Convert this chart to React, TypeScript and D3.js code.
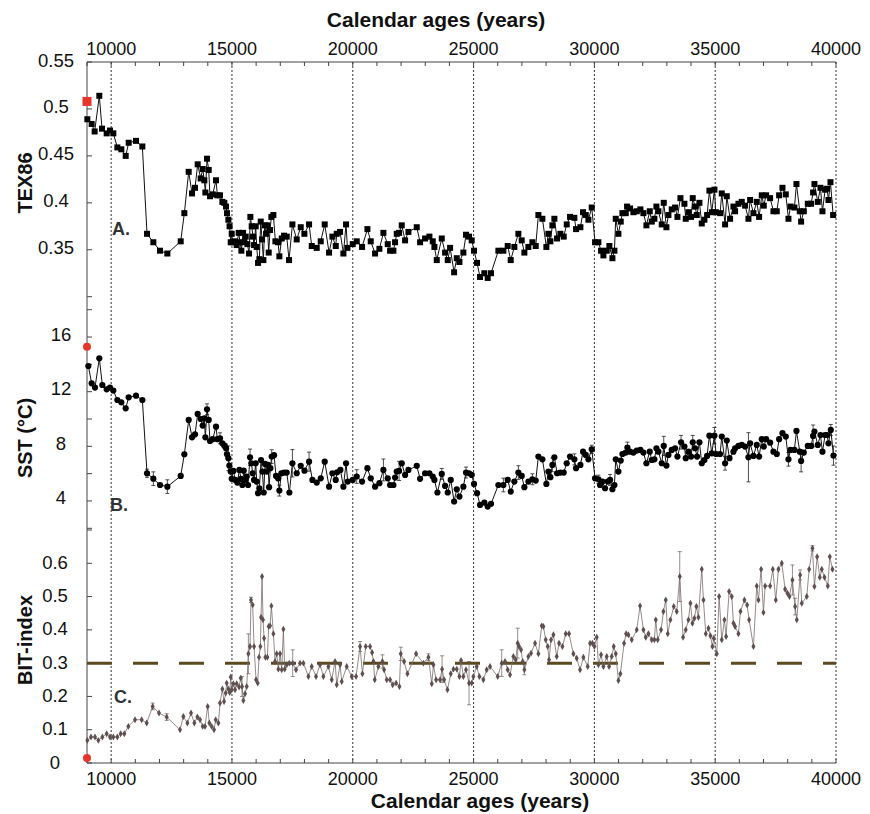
import React from "react";
import * as d3 from "d3";

// ---------- DATA ----------
const ageTicksMajor = [10000, 15000, 20000, 25000, 30000, 35000, 40000];

const tex86Ticks = [0.3, 0.35, 0.4, 0.45, 0.5, 0.55];
const tex86Labels = ["", "0.35", "0.4", "0.45", "0.5", "0.55"];
const sstTicks = [2, 4, 6, 8, 10, 12, 14, 16, 18];
const sstLabels = ["", "4", "", "8", "", "12", "", "16", ""];
const bitTicks = [0, 0.1, 0.2, 0.3, 0.4, 0.5, 0.6, 0.7];
const bitLabels = ["0", "0.1", "0.2", "0.3", "0.4", "0.5", "0.6", ""];

const tex86Modern: [number, number] = [9000, 0.508];
const sstModern: [number, number] = [9000, 15.29];
const bitModern: [number, number] = [9000, 0.015];

const tex86: [number, number][] = [
  [9014,0.489],[9193,0.484],[9317,0.476],[9510,0.514],[9621,0.479],[9814,0.474],[9952,0.477],[10090,0.474],[10256,0.459],[10421,0.457],[10601,0.450],[10725,0.464],[11028,0.466],[11291,0.460],[11484,0.367],[11746,0.358],[12022,0.349],[12326,0.346],[12878,0.359],[13029,0.389],[13209,0.433],[13347,0.410],[13471,0.416],[13581,0.441],[13706,0.426],[13788,0.436],[13857,0.424],[13899,0.411],[13968,0.447],[14037,0.435],[14092,0.407],[14202,0.409],[14340,0.424],[14396,0.408],[14506,0.408],[14603,0.401],[14685,0.400],[14754,0.396],[14796,0.389],[14851,0.382],[14900,0.375],[14948,0.358],[14990,0.367],[15030,0.358],[15127,0.359],[15196,0.355],[15279,0.368],[15334,0.358],[15389,0.349],[15458,0.368],[15513,0.358],[15569,0.364],[15638,0.356],[15707,0.346],[15762,0.385],[15817,0.375],[15872,0.364],[15914,0.355],[15983,0.375],[16024,0.353],[16079,0.336],[16134,0.340],[16190,0.380],[16245,0.361],[16300,0.339],[16355,0.376],[16410,0.367],[16466,0.376],[16521,0.347],[16576,0.371],[16631,0.385],[16714,0.387],[16797,0.359],[16907,0.358],[16962,0.343],[17059,0.362],[17156,0.365],[17266,0.364],[17363,0.339],[17501,0.377],[17680,0.361],[17846,0.374],[17997,0.367],[18191,0.377],[18301,0.354],[18508,0.352],[18674,0.359],[18839,0.377],[19019,0.347],[19157,0.364],[19295,0.354],[19336,0.367],[19474,0.369],[19612,0.346],[19722,0.377],[19778,0.352],[19998,0.356],[20164,0.359],[20385,0.353],[20606,0.372],[20744,0.359],[20923,0.346],[21102,0.351],[21268,0.368],[21447,0.356],[21544,0.349],[21682,0.349],[21751,0.358],[21820,0.367],[21917,0.368],[22027,0.376],[22165,0.360],[22303,0.369],[22648,0.374],[22786,0.358],[22993,0.362],[23172,0.364],[23310,0.359],[23379,0.353],[23476,0.339],[23683,0.362],[23821,0.347],[23931,0.339],[24028,0.352],[24194,0.326],[24304,0.341],[24414,0.337],
  [24577,0.347],[24687,0.366],[24812,0.364],[24922,0.360],[25019,0.349],[25143,0.336],[25267,0.321],[25446,0.325],[25584,0.320],[25722,0.325],[26026,0.349],[26233,0.349],[26412,0.354],[26537,0.339],[26688,0.353],[26854,0.367],[26992,0.360],[27102,0.347],[27268,0.353],[27434,0.358],[27572,0.354],[27682,0.387],[27848,0.383],[28013,0.353],[28096,0.367],[28179,0.359],[28262,0.376],[28344,0.383],[28455,0.362],[28593,0.367],[28731,0.364],[28855,0.377],[28993,0.385],[29172,0.384],[29241,0.372],[29421,0.374],[29531,0.390],[29642,0.387],[29752,0.382],[29890,0.395],[30028,0.358],[30166,0.358],[30276,0.349],[30373,0.344],[30511,0.349],[30621,0.354],[30746,0.341],[30829,0.349],[30884,0.383],[30994,0.367],[31091,0.380],[31160,0.389],[31298,0.389],[31353,0.396],[31477,0.394],[31615,0.390],[31753,0.391],[31905,0.393],[32029,0.389],[32153,0.376],[32291,0.391],[32374,0.380],[32484,0.383],[32567,0.396],[32650,0.391],[32788,0.377],[32871,0.400],[32981,0.374],[33064,0.387],[33202,0.393],[33340,0.395],[33437,0.385],[33561,0.405],[33726,0.399],[33782,0.383],[33892,0.390],[34002,0.385],[34071,0.405],[34168,0.396],[34237,0.387],[34347,0.400],[34444,0.378],[34554,0.382],[34665,0.387],[34761,0.413],[34858,0.390],[34968,0.414],[35024,0.390],[35203,0.389],[35272,0.410],[35410,0.377],[35479,0.407],[35617,0.383],[35755,0.396],[35824,0.391],[35962,0.399],[36100,0.401],[36238,0.397],[36376,0.383],[36445,0.403],[36583,0.389],[36721,0.401],[36818,0.385],[36928,0.408],[37011,0.397],[37107,0.408],[37273,0.405],[37411,0.391],[37549,0.391],[37646,0.408],[37784,0.416],[37922,0.409],[38032,0.383],[38115,0.396],[38280,0.395],[38363,0.420],[38501,0.391],[38556,0.380],[38667,0.391],[38833,0.399],[38970,0.399],[39053,0.411],[39108,0.420],[39246,0.401],[39357,0.416],[39439,0.391],[39550,0.414],[39633,0.415],[39688,0.403],[39771,0.422],[39881,0.387]
];

const sst: [number, number][] = [
  [9055,13.88],[9193,12.61],[9331,12.30],[9510,14.44],[9635,12.49],[9814,12.17],[9952,12.30],[10090,12.08],[10256,11.39],[10421,11.22],[10601,10.78],[10725,11.59],[11028,11.71],[11291,11.39],[11484,6.03],[11746,5.63],[12022,5.17],[12326,5.05],[12878,5.83],[13029,7.42],[13209,9.93],[13347,8.66],[13471,8.88],[13581,10.37],[13706,10.00],[13788,9.52],[13857,10.05],[13899,8.66],[13968,10.71],[14037,9.93],[14092,8.39],[14202,8.52],[14340,9.44],[14396,8.52],[14506,8.59],[14603,8.22],[14685,8.05],[14754,7.86],[14796,7.42],[14851,7.13],[14892,6.59],[14948,6.15],[14989,5.62],[15058,6.20],[15141,5.54],[15224,5.35],[15306,6.27],[15375,5.62],[15430,5.17],[15486,6.22],[15541,5.54],[15610,5.79],[15665,5.17],[15748,7.20],[15803,6.76],[15858,6.03],[15914,5.54],[15983,6.76],[16024,5.42],[16079,4.57],[16134,4.93],[16203,7.00],[16259,6.15],[16314,4.62],[16369,6.71],[16438,6.15],[16493,6.64],[16535,5.01],[16590,6.40],[16645,7.25],[16742,7.35],[16825,5.83],[16907,5.66],[16962,4.76],[17045,6.03],[17156,6.08],[17266,6.08],[17376,4.62],[17501,6.76],[17680,6.03],[17846,6.57],[18001,6.22],[18191,6.88],[18329,5.54],[18508,5.35],[18674,5.66],[18839,6.88],[19019,5.05],[19157,6.03],[19295,5.54],[19350,6.10],[19488,6.27],[19612,5.05],[19722,6.76],[19791,5.42],[19998,5.54],[20164,5.79],[20385,5.42],[20606,6.40],[20744,5.66],[20923,5.05],[21102,5.30],[21268,6.27],[21447,5.66],[21544,5.17],[21682,5.17],[21751,5.71],[21820,6.15],[21917,6.20],[22027,6.76],[22165,5.91],[22303,6.27],[22648,6.57],[22786,5.62],[22993,6.03],[23172,6.03],[23310,5.79],[23379,5.54],[23503,4.62],[23683,5.98],[23821,5.10],[23931,4.62],[24055,5.54],[24194,3.96],[24304,4.86],[24414,4.32],
  [24577,5.05],[24687,6.08],[24812,6.03],[24922,5.91],[25019,5.25],[25143,4.57],[25267,3.71],[25446,3.88],[25584,3.59],[25722,3.79],[26026,5.17],[26233,5.17],[26412,5.54],[26537,4.69],[26688,5.42],[26854,6.08],[26992,5.83],[27102,5.01],[27268,5.42],[27434,5.59],[27572,5.49],[27682,7.25],[27848,7.05],[28013,5.25],[28096,6.15],[28179,5.74],[28262,6.64],[28344,7.20],[28455,6.03],[28593,6.08],[28731,6.08],[28855,6.76],[28993,7.25],[29172,7.05],[29241,6.40],[29421,6.64],[29531,7.61],[29642,7.37],[29752,7.05],[29890,7.78],[30028,5.66],[30166,5.59],[30235,5.17],[30332,5.42],[30442,4.93],[30553,5.42],[30649,5.54],[30746,4.86],[30829,5.17],[30884,7.05],[30994,6.15],[31091,6.96],[31160,7.44],[31298,7.54],[31367,7.91],[31477,7.61],[31615,7.54],[31753,7.69],[31905,7.74],[32029,7.54],[32153,6.76],[32291,7.61],[32374,7.00],[32484,7.05],[32567,7.86],[32650,7.61],[32788,6.76],[32871,8.03],[32981,6.59],[33064,7.37],[33202,7.74],[33340,7.86],[33437,7.25],[33588,8.30],[33726,7.98],[33782,7.13],[33892,7.61],[34002,7.25],[34071,8.30],[34168,7.86],[34250,7.25],[34347,8.30],[34444,6.76],[34554,7.00],[34665,7.30],[34761,8.78],[34858,7.49],[34968,8.78],[35037,7.44],[35203,7.44],[35272,8.71],[35410,6.76],[35479,8.42],[35590,7.13],[35755,7.61],[35824,7.86],[35962,8.03],[36100,8.10],[36238,7.98],[36376,7.20],[36445,8.22],[36583,7.30],[36721,8.10],[36818,7.25],[36928,8.52],[37011,7.98],[37107,8.52],[37273,8.27],[37411,7.61],[37549,7.44],[37646,8.52],[37784,8.96],[37922,8.71],[38032,7.05],[38115,7.74],[38280,7.74],[38363,9.13],[38501,7.61],[38556,6.93],[38667,7.54],[38833,8.03],[38970,8.03],[39053,8.76],[39108,9.08],[39246,8.10],[39357,8.83],[39439,7.61],[39550,8.83],[39633,8.83],[39688,8.22],[39785,9.20],[39895,7.32]
];

const sstErr: [number, number][] = [
  [11484,0.3],[11746,0.5],[12326,0.5],[13968,0.4],[14506,0.4],[14754,0.3],[14851,0.9],[15748,0.6],[16645,0.5],[16962,0.4],[17501,1.0],[18191,0.7],[20164,0.5],[21268,0.8],[21917,0.7],[23683,0.4],
  [24687,0.4],[26233,0.5],[26854,0.5],[27434,0.4],[28262,0.5],[29172,0.4],[29890,0.3],[30166,0.3],[30649,0.4],[31367,0.4],[32871,0.7],[33588,0.5],[34071,0.5],[34968,0.6],[35410,0.5],[36376,1.8],[38032,0.5],[38556,0.8],[39053,0.8],[39785,0.4],[39895,0.7]
];

const bit: [number, number][] = [
  [9014,0.068],[9165,0.078],[9331,0.078],[9469,0.068],[9635,0.078],[9814,0.088],[9952,0.078],[10090,0.078],[10256,0.078],[10394,0.088],[10545,0.088],[10711,0.110],[10987,0.130],[11263,0.130],[11470,0.120],[11718,0.170],[11981,0.150],[12298,0.138],[12850,0.100],[12988,0.140],[13154,0.120],[13305,0.150],[13443,0.120],[13568,0.138],[13678,0.130],[13788,0.110],[13885,0.110],[13995,0.170],[14064,0.120],[14161,0.110],[14258,0.100],[14327,0.130],[14437,0.120],[14506,0.180],[14603,0.222],[14672,0.185],[14741,0.210],[14782,0.240],[14851,0.222],[14906,0.212],[14948,0.258],[14989,0.220],[15058,0.238],[15127,0.220],[15196,0.238],[15293,0.228],[15362,0.255],[15417,0.230],[15472,0.188],[15541,0.208],[15610,0.230],[15679,0.328],[15748,0.350],[15789,0.490],[15858,0.475],[15914,0.350],[15997,0.250],[16065,0.240],[16120,0.318],[16176,0.350],[16203,0.438],[16245,0.560],[16286,0.430],[16328,0.375],[16383,0.318],[16466,0.318],[16521,0.410],[16576,0.412],[16631,0.472],[16714,0.388],[16783,0.305],[16852,0.328],[16921,0.282],[16990,0.328],[17059,0.280],[17128,0.402],[17183,0.282],[17266,0.295],[17376,0.300],[17514,0.300],[17652,0.280],[17818,0.300],[17956,0.300],[18163,0.260],[18301,0.290],[18480,0.260],[18646,0.295],[18784,0.260],[18991,0.290],[19129,0.250],[19267,0.305],[19336,0.235],[19474,0.295],[19543,0.245],[19750,0.290],[19957,0.260],[20136,0.260],[20302,0.350],[20399,0.268],[20537,0.350],[20716,0.350],[20799,0.332],[20854,0.305],[20909,0.250],[21061,0.290],[21227,0.305],[21296,0.280],[21406,0.250],[21544,0.250],[21654,0.235],[21792,0.240],[21930,0.230],[21986,0.328],[22124,0.305],[22262,0.268],[22620,0.328],[22924,0.300],[23131,0.318],[23269,0.238],[23338,0.295],[23448,0.250],[23614,0.250],[23697,0.282],[23780,0.250],[23918,0.220],[24056,0.268],[24166,0.282],[24304,0.282],[24414,0.260],
  [24480,0.308],[24577,0.260],[24687,0.280],[24812,0.240],[24922,0.240],[24991,0.260],[25129,0.290],[25239,0.260],[25405,0.250],[25543,0.280],[25681,0.290],[26000,0.260],[26164,0.300],[26302,0.305],[26412,0.280],[26509,0.265],[26647,0.320],[26743,0.310],[26826,0.360],[26882,0.350],[26964,0.340],[27033,0.305],[27102,0.280],[27268,0.320],[27378,0.330],[27544,0.360],[27682,0.328],[27820,0.412],[27889,0.410],[27986,0.370],[28068,0.350],[28124,0.310],[28206,0.370],[28303,0.385],[28441,0.320],[28538,0.360],[28676,0.350],[28814,0.388],[28952,0.388],[29131,0.328],[29269,0.315],[29407,0.280],[29545,0.318],[29724,0.290],[29821,0.360],[29918,0.360],[30000,0.350],[30097,0.378],[30166,0.295],[30277,0.325],[30373,0.290],[30511,0.320],[30608,0.290],[30718,0.320],[30801,0.350],[30884,0.328],[30994,0.248],[31077,0.268],[31229,0.360],[31312,0.388],[31408,0.385],[31546,0.370],[31753,0.400],[31891,0.472],[32029,0.400],[32126,0.378],[32236,0.388],[32374,0.370],[32484,0.370],[32540,0.430],[32622,0.370],[32760,0.400],[32857,0.455],[32954,0.490],[33036,0.388],[33146,0.430],[33285,0.470],[33409,0.455],[33533,0.560],[33671,0.378],[33781,0.400],[33892,0.430],[33975,0.480],[34058,0.420],[34140,0.435],[34223,0.470],[34306,0.438],[34444,0.582],[34513,0.490],[34610,0.388],[34720,0.405],[34803,0.382],[34886,0.350],[34941,0.375],[35065,0.328],[35162,0.500],[35272,0.370],[35382,0.430],[35451,0.380],[35576,0.515],[35686,0.500],[35755,0.420],[35824,0.410],[35962,0.388],[36045,0.455],[36210,0.490],[36321,0.475],[36403,0.430],[36583,0.350],[36721,0.532],[36790,0.490],[36901,0.582],[36997,0.452],[37066,0.532],[37273,0.532],[37384,0.582],[37508,0.490],[37618,0.582],[37756,0.600],[37894,0.522],[37991,0.510],[38073,0.500],[38197,0.550],[38308,0.470],[38377,0.430],[38515,0.565],[38584,0.480],[38791,0.500],[38888,0.582],[39026,0.645],[39108,0.530],[39219,0.620],[39329,0.558],[39412,0.582],[39522,0.558],[39660,0.532],[39743,0.620],[39854,0.582]
];

const bitErr: [number, number][] = [
  [11718,0.01],[12298,0.01],[15417,0.03],[15679,0.06],[15789,0.008],[17514,0.04],[20302,0.015],[21227,0.02],[21986,0.02],[23131,0.01],[23697,0.04],
  [24812,0.065],[26164,0.04],[26826,0.045],[27102,0.015],[33533,0.075],[38197,0.045],[38308,0.025],[38515,0.015],[39026,0.008]
];

const bitThreshold = 0.3;

// ---------- CHART ----------
const W = 870, H = 814;
const FONT = "'Liberation Sans', Arial, Helvetica, sans-serif";

export default function App() {
  const x = d3.scaleLinear().domain([9000, 40000]).range([87, 836]);
  const yTex = d3.scaleLinear().domain([0.3, 0.55]).range([296.7, 62]);
  const ySst = d3.scaleLinear().domain([2, 18]).range([528.3, 309.7]);
  const yBit = d3.scaleLinear().domain([0, 0.7]).range([763, 530]);

  const top = 62, bottom = 763, left = 87, right = 836;
  const minorTicks = d3.range(9000, 40001, 1000);

  const texLine = d3.line<[number, number]>().x(d => x(d[0])).y(d => yTex(d[1]));
  const sstLine = d3.line<[number, number]>().x(d => x(d[0])).y(d => ySst(d[1]));
  const bitLine = d3.line<[number, number]>().x(d => x(d[0])).y(d => yBit(d[1]));
  const diamond = d3.symbol().type(d3.symbolDiamond).size(14)() as string;

  const sstMap = new Map(sst.map(d => [d[0], d[1]]));
  const bitMap = new Map(bit.map(d => [d[0], d[1]]));

  const axisColor = "#444";
  const bitColor = "#5f4f4f";

  return (
    <svg width={W} height={H} style={{ position: "absolute", left: 0, top: 0, background: "#fff" }} fontFamily={FONT}>
      <rect width={W} height={H} fill="#fff" />
      {/* vertical dotted lines */}
      {ageTicksMajor.map(a => (
        <line key={"v" + a} x1={x(a)} x2={x(a)} y1={top} y2={bottom} stroke="#333" strokeWidth={1} strokeDasharray="2,2" />
      ))}
      {/* axes */}
      <line x1={left} x2={right} y1={top} y2={top} stroke={axisColor} strokeWidth={1} />
      <line x1={left} x2={right} y1={bottom} y2={bottom} stroke={axisColor} strokeWidth={1} />
      <line x1={left} x2={left} y1={top} y2={bottom} stroke={axisColor} strokeWidth={1} />
      {minorTicks.map(a => (
        <g key={"t" + a}>
          <line x1={x(a)} x2={x(a)} y1={top} y2={top + 4} stroke={axisColor} />
          <line x1={x(a)} x2={x(a)} y1={bottom} y2={bottom - 4} stroke={axisColor} />
        </g>
      ))}
      {ageTicksMajor.map(a => (
        <g key={"l" + a} fontSize={18} fill="#111" textAnchor="middle">
          <text x={x(a)} y={49} dominantBaseline="central">{a}</text>
          <text x={x(a)} y={779} dominantBaseline="central">{a}</text>
        </g>
      ))}
      <text x={436} y={19} textAnchor="middle" dominantBaseline="central" fontSize={21} fontWeight="bold" fill="#111">Calendar ages (years)</text>
      <text x={480} y={800} textAnchor="middle" dominantBaseline="central" fontSize={21} fontWeight="bold" fill="#111">Calendar ages (years)</text>

      {/* left ticks */}
      {tex86Ticks.map((t, i) => (
        <g key={"tx" + t}>
          <line x1={left} x2={left + 5} y1={yTex(t)} y2={yTex(t)} stroke={axisColor} />
          <text x={56} y={yTex(t) - 2} textAnchor="middle" dominantBaseline="central" fontSize={18.5} fill="#111">{tex86Labels[i]}</text>
        </g>
      ))}
      {sstTicks.map((t, i) => (
        <g key={"ss" + t}>
          <line x1={left} x2={left + 5} y1={ySst(t)} y2={ySst(t)} stroke={axisColor} />
          <text x={61} y={ySst(t) - 3} textAnchor="middle" dominantBaseline="central" fontSize={18.5} fill="#111">{sstLabels[i]}</text>
        </g>
      ))}
      {bitTicks.map((t, i) => (
        <g key={"bt" + t}>
          <line x1={left} x2={left + 5} y1={yBit(t)} y2={yBit(t)} stroke={axisColor} />
          <text x={55} y={yBit(t) - 1} textAnchor="middle" dominantBaseline="central" fontSize={18.5} fill="#111">{bitLabels[i]}</text>
        </g>
      ))}
      <text transform="translate(25,183) rotate(-90)" textAnchor="middle" dominantBaseline="central" fontSize={20} fontWeight="bold" fill="#111">TEX86</text>
      <text transform="translate(25,438) rotate(-90)" textAnchor="middle" dominantBaseline="central" fontSize={20} fontWeight="bold" fill="#111">SST (°C)</text>
      <text transform="translate(25,640) rotate(-90)" textAnchor="middle" dominantBaseline="central" fontSize={20} fontWeight="bold" fill="#111">BIT-index</text>

      <text x={112} y={229} dominantBaseline="central" fontSize={18} fontWeight="bold" fill="#333">A.</text>
      <text x={110} y={505} dominantBaseline="central" fontSize={18} fontWeight="bold" fill="#333">B.</text>
      <text x={114} y={697} dominantBaseline="central" fontSize={18} fontWeight="bold" fill="#333">C.</text>

      {/* BIT threshold dashed line */}
      <line x1={left} x2={right} y1={yBit(bitThreshold)} y2={yBit(bitThreshold)} stroke="#5a4a1e" strokeWidth={3} strokeDasharray="25,21" />

      {/* TEX86 */}
      <path d={texLine(tex86) as string} fill="none" stroke="#111" strokeWidth={1} />
      {tex86.map((d, i) => (
        <rect key={"tr" + i} x={x(d[0]) - 3} y={yTex(d[1]) - 3} width={6} height={6} fill="#000" />
      ))}
      <rect x={x(tex86Modern[0]) - 4.5} y={yTex(tex86Modern[1]) - 4.5} width={9} height={9} fill="#e8352b" />

      {/* SST */}
      {sstErr.map((e, i) => {
        const v = sstMap.get(e[0]);
        if (v === undefined) return null;
        const cx = x(e[0]);
        return (
          <g key={"se" + i} stroke="#222" strokeWidth={0.8}>
            <line x1={cx} x2={cx} y1={ySst(v - e[1])} y2={ySst(v + e[1])} />
            <line x1={cx - 2} x2={cx + 2} y1={ySst(v - e[1])} y2={ySst(v - e[1])} />
            <line x1={cx - 2} x2={cx + 2} y1={ySst(v + e[1])} y2={ySst(v + e[1])} />
          </g>
        );
      })}
      <path d={sstLine(sst) as string} fill="none" stroke="#111" strokeWidth={1} />
      {sst.map((d, i) => (
        <circle key={"sc" + i} cx={x(d[0])} cy={ySst(d[1])} r={3.1} fill="#000" />
      ))}
      <circle cx={x(sstModern[0])} cy={ySst(sstModern[1])} r={4} fill="#e8352b" />

      {/* BIT */}
      {bitErr.map((e, i) => {
        const v = bitMap.get(e[0]);
        if (v === undefined) return null;
        const cx = x(e[0]);
        return (
          <g key={"be" + i} stroke="#6a5c5c" strokeWidth={0.7}>
            <line x1={cx} x2={cx} y1={yBit(v - e[1])} y2={yBit(v + e[1])} />
            <line x1={cx - 2} x2={cx + 2} y1={yBit(v - e[1])} y2={yBit(v - e[1])} />
            <line x1={cx - 2} x2={cx + 2} y1={yBit(v + e[1])} y2={yBit(v + e[1])} />
          </g>
        );
      })}
      <path d={bitLine(bit) as string} fill="none" stroke="#7a6c6c" strokeWidth={0.8} />
      {bit.map((d, i) => (
        <path key={"bd" + i} d={diamond} transform={`translate(${x(d[0])},${yBit(d[1])})`} fill={bitColor} />
      ))}
      <circle cx={x(bitModern[0])} cy={yBit(bitModern[1])} r={4} fill="#e8352b" />
    </svg>
  );
}
